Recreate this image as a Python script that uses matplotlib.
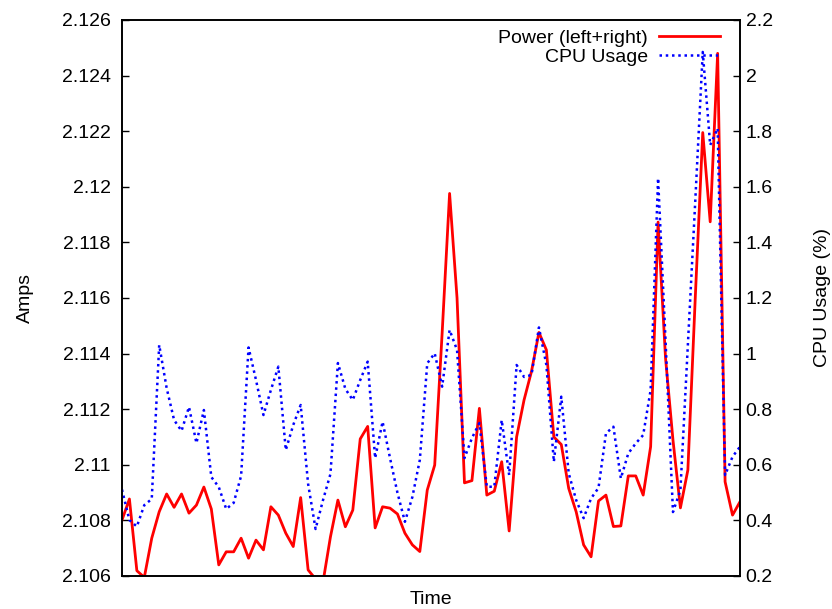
import numpy as np
import matplotlib
matplotlib.use("Agg")
import matplotlib.pyplot as plt
from matplotlib.ticker import FuncFormatter, MultipleLocator

plt.rcParams.update({"font.family": ["Liberation Sans", "DejaVu Sans"], "font.size": 14})

# supply current (A) summed over both rails, one sample per interval
power_amps = [
    2.10801, 2.10877, 2.10619, 2.10595, 2.10736, 2.10831, 2.10895, 2.10847, 2.10895, 2.10826,
    2.10855, 2.10920, 2.10841, 2.10640, 2.10687, 2.10687, 2.10736, 2.10664, 2.10729, 2.10694,
    2.10849, 2.10819, 2.10754, 2.10706, 2.10882, 2.10622, 2.10589, 2.10578, 2.10741, 2.10873,
    2.10777, 2.10837, 2.11093, 2.11138, 2.10773, 2.10849, 2.10844, 2.10823, 2.10754, 2.10712,
    2.10688, 2.10909, 2.10999, 2.11474, 2.11976, 2.11600, 2.10935, 2.10943, 2.11203, 2.10891,
    2.10905, 2.11011, 2.10762, 2.11100, 2.11233, 2.11336, 2.11476, 2.11413, 2.11100, 2.11073,
    2.10915, 2.10831, 2.10712, 2.10669, 2.10870, 2.10891, 2.10778, 2.10780, 2.10960, 2.10960,
    2.10891, 2.11065, 2.11873, 2.11384, 2.11089, 2.10845, 2.10981, 2.11604, 2.12195, 2.11874,
    2.12480, 2.10939, 2.10819, 2.10867,
]

# CPU usage (%) sampled at the same instants
cpu_usage = [
    0.511, 0.401, 0.378, 0.455, 0.477, 1.031, 0.876, 0.761, 0.722, 0.808,
    0.678, 0.797, 0.556, 0.520, 0.441, 0.463, 0.560, 1.022, 0.905, 0.779,
    0.869, 0.953, 0.653, 0.743, 0.815, 0.531, 0.369, 0.473, 0.567, 0.966,
    0.873, 0.833, 0.905, 0.971, 0.624, 0.755, 0.624, 0.499, 0.395, 0.484,
    0.617, 0.965, 1.001, 0.881, 1.085, 1.013, 0.624, 0.696, 0.750, 0.521,
    0.521, 0.761, 0.563, 0.959, 0.916, 0.923, 1.094, 0.959, 0.611, 0.845,
    0.569, 0.473, 0.408, 0.479, 0.517, 0.713, 0.737, 0.551, 0.641, 0.677,
    0.707, 0.869, 1.631, 1.049, 0.430, 0.509, 1.031, 1.552, 2.085, 1.750,
    1.810, 0.563, 0.629, 0.665,
]

t = np.arange(len(power_amps))
fmt_g = FuncFormatter(lambda v, pos: "%g" % round(v, 6))

fig = plt.figure(figsize=(8.32, 6.09), dpi=100)
ax = fig.add_axes([0.1466, 0.0542, 0.7428, 0.913])
ax2 = ax.twinx()

l1, = ax.plot(t, power_amps, color="#ff0000", lw=2.0, label="Power (left+right)")
l2, = ax2.plot(t, cpu_usage, color="#0000ff", lw=1.8, ls=(0, (1, 1.5)), label="CPU Usage")

ax.set_xlim(0, len(t) - 1)
ax.set_ylim(2.106, 2.126)
ax2.set_ylim(0.2, 2.2)
ax.yaxis.set_major_locator(MultipleLocator(0.002))
ax2.yaxis.set_major_locator(MultipleLocator(0.2))
ax.yaxis.set_major_formatter(fmt_g)
ax2.yaxis.set_major_formatter(fmt_g)
ax.set_xticks([])

ax.tick_params(axis="y", direction="in", length=5, width=1, right=False, pad=8)
ax2.tick_params(axis="y", direction="in", length=5, width=1, pad=4)
for a in (ax, ax2):
    for s in a.spines.values():
        s.set_linewidth(1.2)

ax.set_xlabel("Time", labelpad=11)
ax.set_ylabel("Amps", labelpad=20)
ax2.set_ylabel("CPU Usage (%)", labelpad=30)

ax2.legend(handles=[l1, l2], loc="upper right", bbox_to_anchor=(0.986, 1.004),
           frameon=False, markerfirst=False, handlelength=3.1, handletextpad=0.6,
           labelspacing=0.05, borderaxespad=0.2, fontsize=14)

fig.savefig("out.png", dpi=100)
